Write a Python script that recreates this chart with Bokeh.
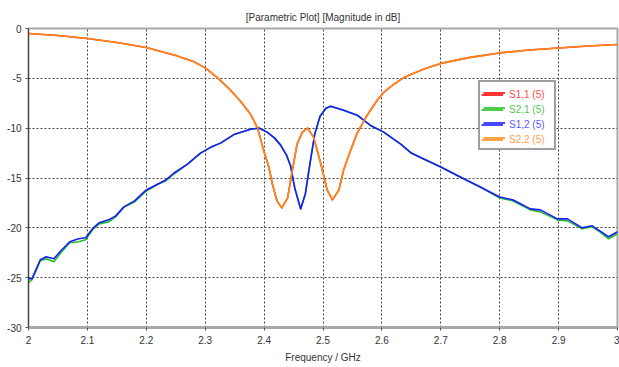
from bokeh.plotting import figure
from bokeh.models import Legend, LegendItem, FixedTicker, Range1d
from bokeh.embed import file_html
from bokeh.resources import INLINE

# ---- data ----
title_text = "[Parametric Plot] [Magnitude in dB]"
x_label = "Frequency / GHz"
x_ticks = [2.0, 2.1, 2.2, 2.3, 2.4, 2.5, 2.6, 2.7, 2.8, 2.9, 3.0]
x_tick_labels = ["2", "2.1", "2.2", "2.3", "2.4", "2.5", "2.6", "2.7", "2.8", "2.9", "3"]
y_ticks = [-30, -25, -20, -15, -10, -5, 0]
y_tick_labels = ["-30", "-25", "-20", "-15", "-10", "-5", "0"]

series_names = ["S1,1 (5)", "S2,1 (5)", "S1,2 (5)", "S2,2 (5)"]

f_refl = [2.00, 2.05, 2.10, 2.15, 2.20, 2.25, 2.28, 2.30, 2.32, 2.34, 2.36, 2.377, 2.389,
          2.399, 2.408, 2.414, 2.422, 2.43, 2.44, 2.448, 2.456, 2.465, 2.474, 2.484,
          2.496, 2.507, 2.516, 2.527, 2.535, 2.547, 2.558, 2.575, 2.592, 2.605, 2.62,
          2.635, 2.65, 2.67, 2.70, 2.75, 2.80, 2.85, 2.90, 2.95, 3.00]
s22 = [-0.5, -0.7, -1.0, -1.4, -1.9, -2.7, -3.3, -3.95, -4.9, -6.0, -7.3, -8.6, -10.0,
       -12.2, -13.9, -15.6, -17.3, -18.0, -17.0, -14.2, -11.6, -10.4, -10.0, -10.9,
       -13.5, -16.2, -17.2, -16.2, -14.2, -12.2, -10.5, -8.7, -7.2, -6.3, -5.6,
       -5.0, -4.6, -4.1, -3.5, -2.9, -2.45, -2.15, -1.95, -1.75, -1.6]
s11 = [-0.5, -0.7, -1.0, -1.4, -1.9, -2.7, -3.3, -3.95, -4.9, -6.0, -7.3, -8.6, -10.0,
       -12.2, -13.9, -15.6, -17.3, -18.0, -17.0, -14.2, -11.6, -10.4, -10.0, -10.9,
       -13.5, -16.2, -17.2, -16.2, -14.2, -12.2, -10.5, -8.7, -7.2, -6.3, -5.6,
       -5.0, -4.6, -4.1, -3.5, -2.9, -2.45, -2.15, -1.95, -1.75, -1.6]

f_trans = [2.000, 2.006, 2.012, 2.020, 2.030, 2.043, 2.055, 2.070, 2.085, 2.097, 2.110,
           2.120, 2.136, 2.148, 2.162, 2.180, 2.200, 2.220, 2.233, 2.247, 2.270, 2.292,
           2.310, 2.326, 2.350, 2.377, 2.392, 2.405, 2.418, 2.428, 2.438, 2.445, 2.452,
           2.462, 2.470, 2.478, 2.486, 2.495, 2.505, 2.513, 2.535, 2.558, 2.580, 2.603,
           2.632, 2.650, 2.671, 2.700, 2.733, 2.767, 2.800, 2.823, 2.852, 2.869, 2.898,
           2.915, 2.940, 2.957, 2.970, 2.985, 3.000]
s12 = [-25.1, -25.1, -24.3, -23.2, -22.9, -23.1, -22.3, -21.4, -21.1, -21.0, -20.0,
       -19.5, -19.2, -18.8, -17.9, -17.3, -16.2, -15.6, -15.2, -14.5, -13.6, -12.5,
       -11.9, -11.5, -10.6, -10.1, -10.0, -10.4, -11.0, -11.7, -12.7, -13.8, -16.0,
       -18.1, -16.6, -13.5, -10.6, -8.8, -8.0, -7.8, -8.2, -8.7, -9.7, -10.4,
       -11.6, -12.5, -13.1, -13.9, -14.9, -15.9, -16.9, -17.2, -18.1, -18.2, -19.1,
       -19.1, -20.0, -19.8, -20.3, -20.9, -20.4]
s21 = [-25.5, -25.2, -24.4, -23.3, -23.1, -23.4, -22.5, -21.5, -21.4, -21.2, -20.1,
       -19.6, -19.4, -18.9, -17.9, -17.4, -16.3, -15.6, -15.3, -14.6, -13.6, -12.5,
       -11.9, -11.5, -10.6, -10.1, -10.0, -10.4, -11.0, -11.7, -12.7, -13.8, -16.0,
       -18.1, -16.6, -13.5, -10.6, -8.8, -8.0, -7.8, -8.2, -8.7, -9.7, -10.4,
       -11.6, -12.5, -13.1, -13.9, -14.9, -15.9, -17.0, -17.3, -18.2, -18.4, -19.2,
       -19.3, -20.1, -19.9, -20.4, -21.1, -20.6]

line_colors = ["#ff0000", "#22c022", "#1a1aff", "#ff8c1a"]
text_colors = ["#ff4d4d", "#55c455", "#5a5aff", "#ffa04d"]

FONT = "Liberation Sans"

p = figure(width=619, height=367, output_backend="svg", toolbar_location=None,
           x_range=Range1d(2, 3), y_range=Range1d(-30, 0),
           min_border_left=28, min_border_right=2, min_border_top=28, min_border_bottom=40)

p.title.text = title_text
p.title.align = "center"
p.title.text_font = FONT
p.title.text_font_size = "10px"
p.title.text_font_style = "normal"
p.title.text_color = "#333333"
p.title.standoff = 12
p.title.vertical_align = "bottom"

xs_list = [f_refl, f_trans, f_trans, f_refl]
ys_list = [s11, s21, s12, s22]
renderers = []
for xs, ys, c in zip(xs_list, ys_list, line_colors):
    r = p.line(xs, ys, line_color=c, line_width=1.6, line_join="round")
    renderers.append(r)

# axes
p.xaxis.ticker = FixedTicker(ticks=x_ticks)
p.yaxis.ticker = FixedTicker(ticks=y_ticks)
p.xaxis.major_label_overrides = {t: l for t, l in zip(x_ticks, x_tick_labels)}
p.yaxis.major_label_overrides = {t: l for t, l in zip(y_ticks, y_tick_labels)}
for ax in (p.xaxis, p.yaxis):
    ax.major_label_text_font = FONT
    ax.major_label_text_font_size = "10px"
    ax.major_label_text_color = "#333333"
    ax.minor_tick_line_color = None
    ax.major_tick_in = 0
    ax.major_tick_out = 3
    ax.major_tick_line_color = "#555555"
p.yaxis.axis_line_color = "#404040"
p.yaxis.major_label_standoff = 4
p.xaxis.axis_line_color = "#a8a8a8"
p.xaxis.axis_line_width = 3
p.xaxis.major_label_standoff = 5
p.xaxis.axis_label = x_label
p.xaxis.axis_label_text_font = FONT
p.xaxis.axis_label_text_font_size = "10px"
p.xaxis.axis_label_text_font_style = "normal"
p.xaxis.axis_label_text_color = "#333333"
p.xaxis.axis_label_standoff = 5

p.outline_line_color = "#a8a8a8"
p.outline_line_width = 2

p.xgrid.grid_line_color = "#444444"
p.ygrid.grid_line_color = "#444444"
p.xgrid.grid_line_dash = "2 2"
p.ygrid.grid_line_dash = "2 2"

# legend: box + glyphs (blank labels), colored labels overlaid per item
LX, LY = 450, 177
PAD, ROW = 3, 15
main = Legend(items=[LegendItem(label=" ", renderers=[r]) for r in renderers],
              location=(LX, LY), padding=PAD, spacing=0, margin=0,
              glyph_width=22, glyph_height=ROW, label_height=ROW, label_width=40,
              label_standoff=6, label_text_font=FONT, label_text_font_size="10px",
              border_line_color="#404040", border_line_width=2,
              background_fill_color="white", background_fill_alpha=1.0)
p.add_layout(main)
for i, (n, r, tc) in enumerate(zip(series_names, renderers, text_colors)):
    lg = Legend(items=[LegendItem(label=n, renderers=[r])],
                location=(LX, LY + (3 - i) * ROW), padding=PAD, spacing=0, margin=0,
                glyph_width=22, glyph_height=ROW, label_height=ROW,
                label_standoff=6, label_text_font=FONT, label_text_font_size="10px",
                label_text_color=tc,
                border_line_alpha=0.0, background_fill_alpha=0.0)
    p.add_layout(lg)

open("out.html", "w").write(file_html(p, INLINE))
